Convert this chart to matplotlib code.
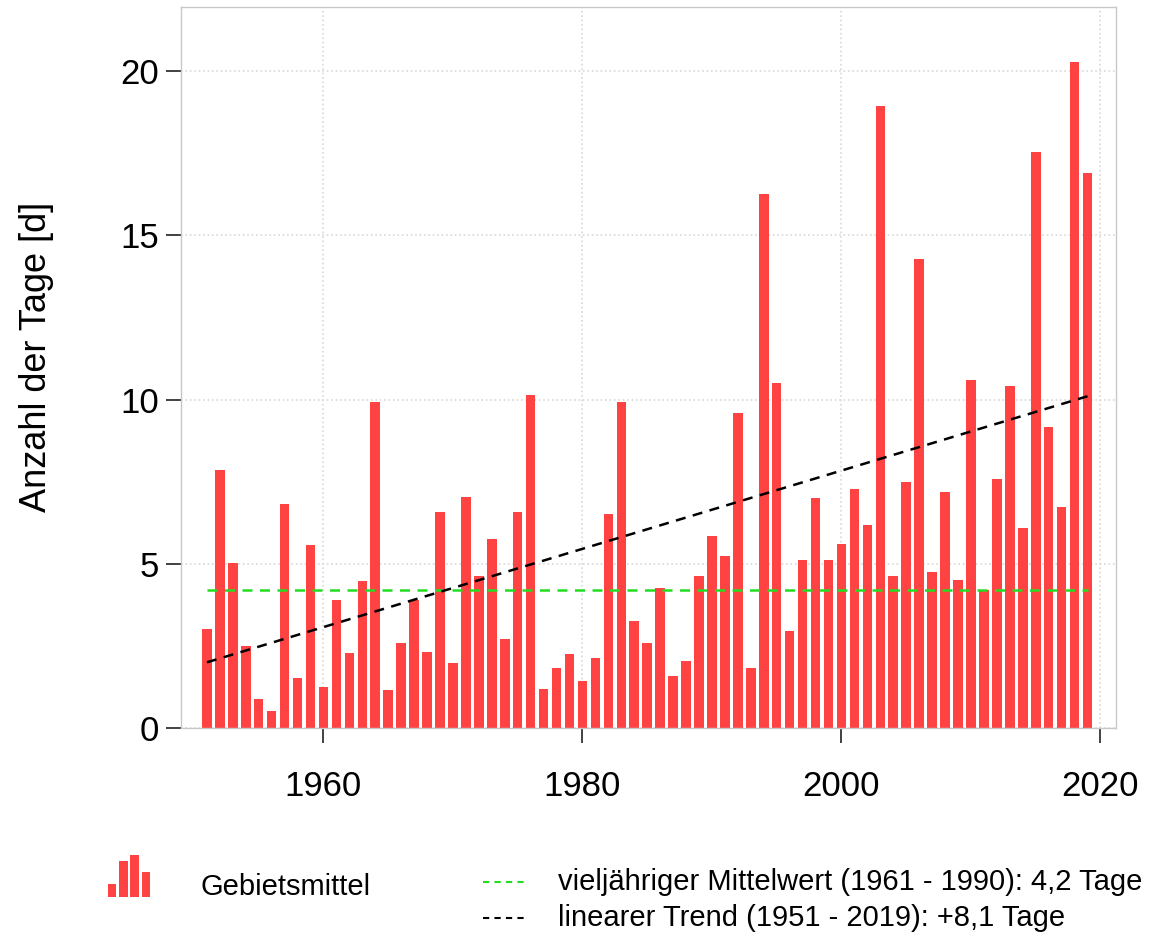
"""
Anzahl der Tage pro Jahr (Gebietsmittel) 1951-2019 mit Mittelwert und Trend.
"""

import numpy as np
import matplotlib
matplotlib.use("Agg")
import matplotlib.pyplot as plt
from matplotlib.lines import Line2D

plt.rcParams["font.family"] = ["Liberation Sans", "DejaVu Sans"]

# ─── Daten ────────────────────────────────────────────────────────────────────

YEARS = list(range(1951, 2020))
DAYS = [
    3.0, 7.85, 5.03, 2.5, 0.89, 0.51, 6.82, 1.53, 5.57, 1.25,      # 1951-1960
    3.91, 2.29, 4.47, 9.91, 1.15, 2.59, 3.89, 2.31, 6.58, 1.98,     # 1961-1970
    7.04, 4.63, 5.75, 2.72, 6.58, 10.15, 1.2, 1.84, 2.24, 1.42,     # 1971-1980
    2.14, 6.51, 9.91, 3.26, 2.59, 4.27, 1.59, 2.04, 4.63, 5.85,     # 1981-1990
    5.24, 9.59, 1.84, 16.26, 10.49, 2.95, 5.1, 7.0, 5.1, 5.6,       # 1991-2000
    7.29, 6.18, 18.93, 4.64, 7.49, 14.28, 4.75, 7.19, 4.52, 10.59,  # 2001-2010
    4.21, 7.58, 10.4, 6.1, 17.53, 9.17, 6.72, 20.29, 16.9,          # 2011-2019
]

MEAN_VALUE = 4.2                  # 1961-1990
TREND_YEARS = [1951, 2019]
TREND_VALUES = [2.0, 10.1]        # +8,1 Tage

Y_TICKS = [0, 5, 10, 15, 20]
X_TICKS = [1960, 1980, 2000, 2020]

LEGEND_ICON = [0.3, 0.85, 1.0, 0.6]

BAR_COLOR = "#ff4343"
MEAN_COLOR = "#22dd22"
TREND_COLOR = "black"
TICK_SIZE = 25
LEGEND_SIZE = 21

# ─── Figure ───────────────────────────────────────────────────────────────────

fig = plt.figure(figsize=(11.75, 9.38), dpi=100)
ax = fig.add_axes([181 / 1175, 1 - 728 / 938, (1116 - 181) / 1175, (728 - 7) / 938])

ax.bar(YEARS, DAYS, width=0.74, color=BAR_COLOR, zorder=2)
ax.plot([YEARS[0], YEARS[-1]], [MEAN_VALUE, MEAN_VALUE], color=MEAN_COLOR,
        linestyle=(0, (4, 3)), linewidth=1.8, zorder=3)
ax.plot(TREND_YEARS, TREND_VALUES, color=TREND_COLOR,
        linestyle=(0, (4, 3)), linewidth=1.8, zorder=4)

ax.set_xlim(1949.0, 2021.2)
ax.set_ylim(0, 21.95)
ax.set_xticks(X_TICKS)
ax.set_yticks(Y_TICKS)
ax.grid(color="#d8d8d8", linestyle=":", linewidth=1.2, zorder=0)
ax.set_axisbelow(True)

for s in ax.spines.values():
    s.set_color("#c8c8c8")
    s.set_linewidth(1.0)

ax.tick_params(axis="x", direction="out", length=11, width=1.3, color="#333333",
               pad=19, labelsize=TICK_SIZE)
ax.tick_params(axis="y", direction="out", length=11, width=1.3, color="#333333",
               pad=5, labelsize=TICK_SIZE)

fig.text(37 / 1175, 1 - 357 / 938, "Anzahl der Tage [d]", rotation=90,
         ha="center", va="center", fontsize=26)

# ─── Legende ──────────────────────────────────────────────────────────────────

icon_ax = fig.add_axes([107 / 1175, 1 - 897 / 938, 44 / 1175, 42 / 938])
icon_ax.bar(range(len(LEGEND_ICON)), LEGEND_ICON, width=0.78, color=BAR_COLOR)
icon_ax.set_xlim(-0.45, len(LEGEND_ICON) - 0.55)
icon_ax.set_ylim(0, 1)
icon_ax.axis("off")

fig.text(200 / 1175, 1 - 887 / 938, "Gebietsmittel", ha="left", va="center",
         fontsize=LEGEND_SIZE)

legend_rows = [
    (882, MEAN_COLOR, "vieljähriger Mittelwert (1961 - 1990): 4,2 Tage"),
    (918, TREND_COLOR, "linearer Trend (1951 - 2019): +8,1 Tage"),
]
for ypx, col, label in legend_rows:
    yf = 1 - ypx / 938
    fig.add_artist(Line2D([483 / 1175, 527 / 1175], [yf, yf], color=col,
                          linestyle=(0, (3, 2.5)), linewidth=1.5))
    fig.text(558 / 1175, yf, label, ha="left", va="center", fontsize=LEGEND_SIZE)

fig.savefig("out.png", dpi=100)
